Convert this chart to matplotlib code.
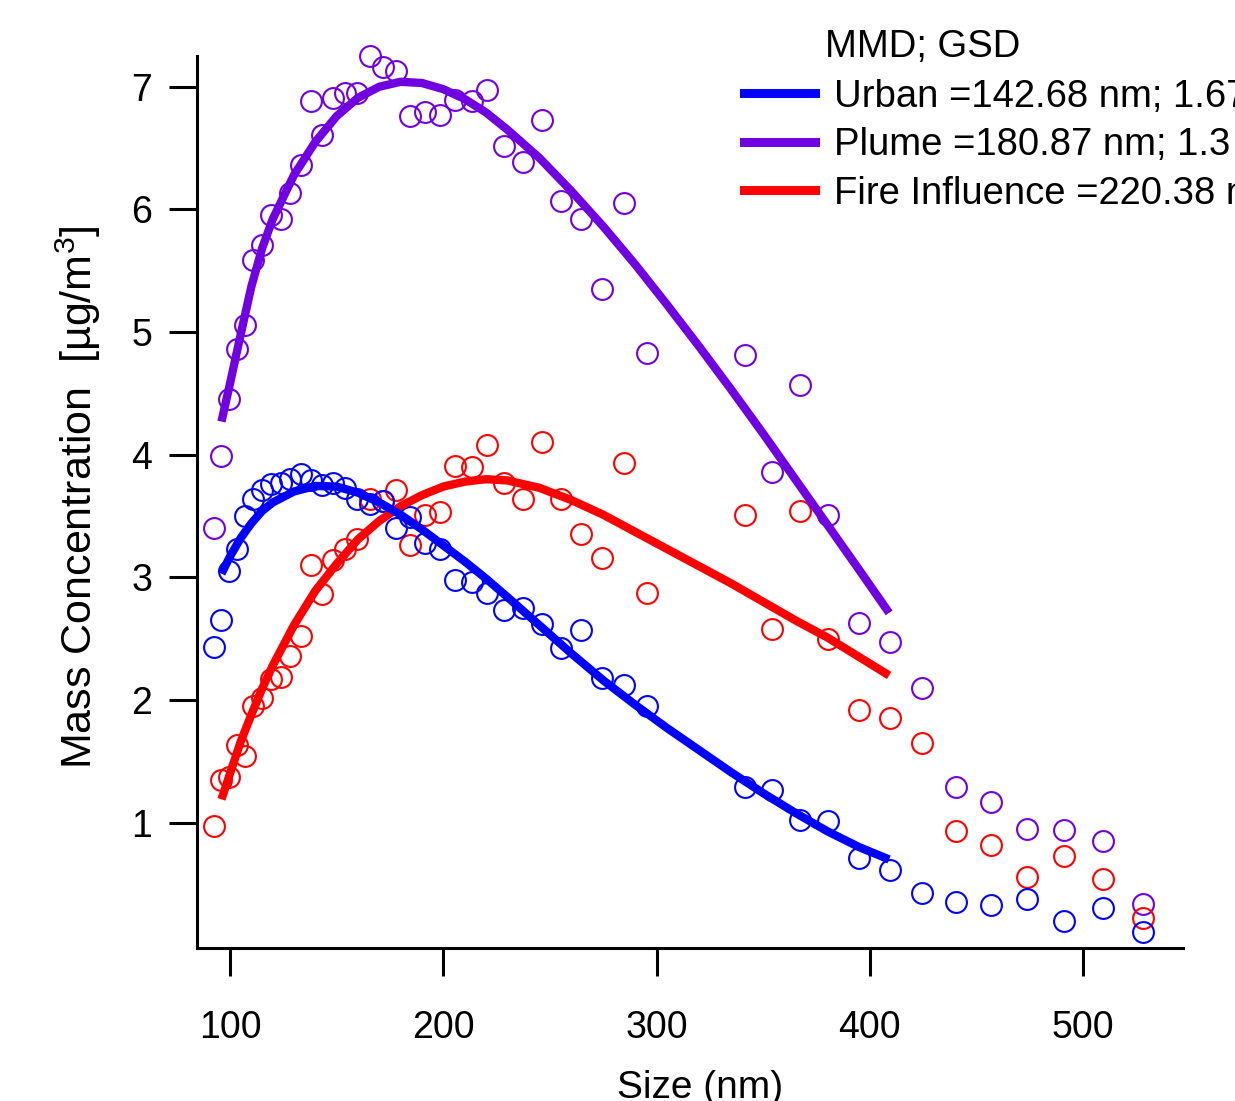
import matplotlib
matplotlib.use('Agg')
import matplotlib.pyplot as plt
from matplotlib.lines import Line2D

plt.rcParams['font.family'] = ['Liberation Sans', 'DejaVu Sans']
plt.rcParams['mathtext.fontset'] = 'custom'
plt.rcParams['mathtext.rm'] = 'Liberation Sans'

# measured size bins (nm)
size_nm = [92.6, 96.0, 99.5, 103.2, 107.0, 111.0, 115.1, 119.3, 123.8, 128.3,
           133.1, 138.0, 143.1, 148.4, 153.9, 159.6, 165.5, 171.6, 177.9, 184.5,
           191.3, 198.4, 205.7, 213.3, 220.6, 228.6, 237.2, 246.1, 255.0, 264.5,
           274.5, 284.5, 295.3, 341.4, 354.1, 367.2, 380.3, 394.8, 409.4, 424.4,
           440.3, 456.7, 473.6, 491.0, 509.2, 528.0]

urban = [2.43, 2.65, 3.05, 3.23, 3.50, 3.64, 3.71, 3.76, 3.77, 3.80,
         3.84, 3.79, 3.75, 3.77, 3.73, 3.64, 3.60, 3.62, 3.40, 3.49,
         3.28, 3.23, 2.98, 2.96, 2.87, 2.73, 2.75, 2.62, 2.42, 2.57,
         2.18, 2.12, 1.95, 1.29, 1.27, 1.02, 1.01, 0.71, 0.61, 0.43,
         0.35, 0.33, 0.38, 0.20, 0.30, 0.11]

plume = [3.40, 3.99, 4.45, 4.86, 5.06, 5.59, 5.71, 5.95, 5.92, 6.13,
         6.36, 6.88, 6.61, 6.91, 6.95, 6.95, 7.25, 7.16, 7.13, 6.76,
         6.79, 6.77, 6.89, 6.88, 6.97, 6.52, 6.39, 6.73, 6.07, 5.92,
         5.35, 6.05, 4.83, 4.81, 3.86, 4.57, 3.51, 2.63, 2.47, 2.10,
         1.29, 1.17, 0.95, 0.94, 0.85, 0.34]

fire = [0.97, 1.35, 1.37, 1.63, 1.54, 1.95, 2.02, 2.17, 2.19, 2.36,
        2.52, 3.10, 2.86, 3.14, 3.23, 3.31, 3.64, 3.62, 3.71, 3.26,
        3.51, 3.53, 3.91, 3.90, 4.08, 3.77, 3.64, 4.10, 3.64, 3.35,
        3.16, 3.93, 2.87, 3.51, 2.58, 3.54, 2.50, 1.92, 1.85, 1.65,
        0.93, 0.82, 0.56, 0.73, 0.54, 0.22]

# fitted curves
fit_size = [96, 100, 105, 110, 115, 120, 130, 140, 150, 160, 170, 180, 190, 200,
            210, 220, 230, 245, 260, 275, 290, 305, 320, 335, 350, 365, 380, 395, 409]
urban_fit = [3.03, 3.17, 3.32, 3.44, 3.54, 3.61, 3.70, 3.745, 3.74, 3.69, 3.61, 3.51,
             3.39, 3.26, 3.13, 2.99, 2.84, 2.61, 2.38, 2.16, 1.96, 1.77, 1.59, 1.41,
             1.24, 1.08, 0.93, 0.80, 0.70]
plume_fit = [4.27, 4.58, 4.98, 5.37, 5.68, 5.92, 6.28, 6.55, 6.76, 6.91, 7.00, 7.04,
             7.03, 6.98, 6.90, 6.79, 6.65, 6.42, 6.15, 5.86, 5.55, 5.22, 4.88, 4.53,
             4.17, 3.80, 3.43, 3.06, 2.71]
fire_fit = [1.19, 1.40, 1.66, 1.88, 2.09, 2.28, 2.61, 2.89, 3.11, 3.31, 3.46, 3.58,
            3.67, 3.74, 3.78, 3.80, 3.79, 3.73, 3.63, 3.51, 3.37, 3.23, 3.09, 2.95,
            2.80, 2.65, 2.51, 2.35, 2.20]

legend_labels = ['Urban =142.68 nm; 1.67', 'Plume =180.87 nm; 1.3',
                 'Fire Influence =220.38 nm']

BLUE = '#0000ff'
PURPLE = '#7000e0'
RED = '#ff0000'


def main():
    fig = plt.figure(figsize=(12.35, 11.01), dpi=100)
    ax = fig.add_axes([0.1593, 0.1392, 0.7988, 0.8099])

    # open circle markers
    mk = dict(marker='o', linestyle='none', markerfacecolor='none',
              markersize=15, markeredgewidth=1.5, clip_on=False)
    ax.plot(size_nm, plume, markeredgecolor=PURPLE, **mk)
    ax.plot(size_nm, fire, markeredgecolor=RED, **mk)
    ax.plot(size_nm, urban, markeredgecolor=BLUE, **mk)

    # fit lines
    ax.plot(fit_size, fire_fit, color=RED, lw=6, solid_capstyle='butt')
    ax.plot(fit_size, plume_fit, color=PURPLE, lw=6, solid_capstyle='butt')
    ax.plot(fit_size, urban_fit, color=BLUE, lw=6, solid_capstyle='butt')

    ax.set_xlim(84.4, 546.9)
    ax.set_ylim(-0.02, 7.25)
    ax.set_xticks([100, 200, 300, 400, 500])
    ax.set_yticks([1, 2, 3, 4, 5, 6, 7])

    for side in ['top', 'right']:
        ax.spines[side].set_visible(False)
    for side in ['left', 'bottom']:
        ax.spines[side].set_linewidth(2.2)
    ax.tick_params(axis='both', direction='out', length=20, width=2.2,
                   labelsize=27)
    ax.tick_params(axis='x', pad=25)
    ax.tick_params(axis='y', pad=12)

    ax.set_xlabel('Size (nm)', fontsize=28)
    ax.xaxis.set_label_coords(0.51, -0.137)
    ax.set_ylabel(r'Mass Concentration  [µg/m$^{3}$]', fontsize=31)
    ax.yaxis.set_label_coords(-0.095, 0.505)

    # legend (runs off the right edge, as in the original)
    handles = [Line2D([], [], color=c, lw=6.5) for c in (BLUE, PURPLE, RED)]
    fig.legend(handles, legend_labels, loc='upper left',
               bbox_to_anchor=(0.6025, 0.9287), frameon=False, fontsize=27.5,
               handlelength=1.85, handletextpad=0.5, labelspacing=0.33,
               borderpad=0, borderaxespad=0)
    fig.text(0.668, 0.957, 'MMD; GSD', fontsize=27.5, va='center', ha='left')

    fig.savefig('out.png', dpi=100)
    plt.close(fig)


if __name__ == "__main__":
    main()
